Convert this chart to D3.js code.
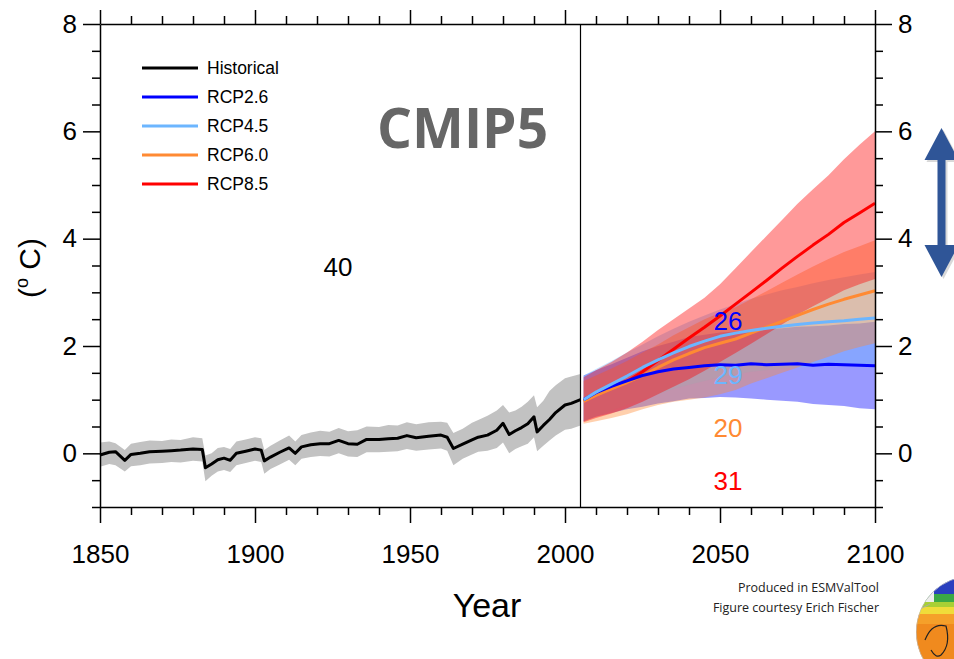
<!DOCTYPE html>
<html><head><meta charset="utf-8">
<script src="https://cdn.jsdelivr.net/npm/d3@7"></script>
<style>body{margin:0;background:#fff} svg{display:block}</style>
</head><body>
<svg id="c" width="954" height="659"></svg>
<script>
// ---------- DATA ----------
const histYears = [1850,1853,1855,1858,1860,1863,1866,1870,1873,1876,1880,1883,1884,1886,1888,1890,1892,1894,1897,1900,1902,1903,1905,1908,1911,1913,1915,1918,1921,1924,1927,1930,1933,1936,1940,1943,1946,1949,1952,1956,1960,1962,1964,1967,1970,1972,1975,1978,1980,1982,1984,1986,1988,1990,1991,1993,1995,1997,2000,2002,2005];
const histMean = [-0.03,0.02,0.03,-0.13,-0.02,0.00,0.03,0.04,0.05,0.06,0.08,0.07,-0.27,-0.20,-0.12,-0.09,-0.13,0.00,0.04,0.08,0.06,-0.14,-0.07,0.02,0.10,0.00,0.12,0.16,0.18,0.18,0.24,0.18,0.17,0.26,0.26,0.27,0.28,0.33,0.29,0.32,0.34,0.30,0.09,0.17,0.25,0.30,0.34,0.43,0.56,0.35,0.42,0.48,0.55,0.68,0.40,0.52,0.63,0.76,0.90,0.93,1.00];
const histLo = [-0.25,-0.20,-0.22,-0.34,-0.24,-0.22,-0.19,-0.18,-0.16,-0.17,-0.14,-0.15,-0.52,-0.42,-0.34,-0.31,-0.35,-0.22,-0.18,-0.14,-0.16,-0.38,-0.29,-0.21,-0.12,-0.22,-0.10,-0.07,-0.05,-0.06,0.00,-0.06,-0.07,0.02,0.02,0.03,0.04,0.08,0.05,0.07,0.09,0.05,-0.22,-0.10,-0.02,0.03,0.05,0.10,0.20,0.00,0.08,0.13,0.18,0.30,0.04,0.14,0.24,0.33,0.44,0.46,0.52];
const histHi = [0.20,0.22,0.19,0.06,0.18,0.21,0.24,0.23,0.26,0.25,0.30,0.28,-0.04,0.00,0.10,0.12,0.08,0.22,0.26,0.30,0.28,0.06,0.14,0.24,0.33,0.22,0.34,0.39,0.42,0.40,0.47,0.41,0.43,0.50,0.49,0.53,0.52,0.58,0.54,0.58,0.59,0.57,0.38,0.46,0.57,0.62,0.70,0.80,0.90,0.76,0.80,0.87,0.96,1.08,0.86,0.98,1.16,1.27,1.40,1.43,1.48];

const futYears = [2006,2010,2015,2020,2025,2030,2035,2040,2045,2050,2055,2060,2065,2070,2075,2080,2085,2090,2095,2100];
const rcp26Mean = [1.00,1.13,1.25,1.35,1.45,1.52,1.57,1.60,1.63,1.65,1.64,1.67,1.65,1.66,1.67,1.64,1.66,1.65,1.64,1.63];
const rcp26Lo   = [0.60,0.68,0.75,0.82,0.87,0.93,0.97,1.02,1.03,1.05,1.04,1.02,1.00,0.98,0.96,0.92,0.90,0.88,0.84,0.82];
const rcp26Hi   = [1.45,1.55,1.66,1.78,1.90,2.00,2.08,2.17,2.21,2.25,2.27,2.30,2.31,2.33,2.36,2.37,2.38,2.41,2.42,2.45];
const rcp45Mean = [1.00,1.14,1.29,1.44,1.60,1.74,1.87,1.99,2.09,2.18,2.24,2.29,2.33,2.37,2.40,2.43,2.45,2.47,2.50,2.52];
const rcp45Lo   = [0.60,0.70,0.80,0.90,1.00,1.10,1.20,1.28,1.35,1.42,1.47,1.52,1.55,1.58,1.60,1.62,1.63,1.65,1.66,1.67];
const rcp45Hi   = [1.45,1.57,1.72,1.88,2.03,2.18,2.32,2.45,2.57,2.68,2.78,2.88,2.96,3.04,3.10,3.17,3.23,3.28,3.33,3.38];
const rcp60Mean = [0.97,1.08,1.20,1.32,1.45,1.60,1.74,1.86,1.97,2.05,2.13,2.24,2.35,2.46,2.57,2.68,2.78,2.87,2.95,3.03];
const rcp60Lo   = [0.55,0.60,0.66,0.73,0.82,0.90,0.96,1.00,1.04,1.10,1.18,1.30,1.40,1.50,1.60,1.70,1.80,1.90,1.98,2.05];
const rcp60Hi   = [1.35,1.45,1.58,1.72,1.88,2.03,2.20,2.35,2.50,2.62,2.72,2.87,3.02,3.18,3.33,3.48,3.62,3.75,3.86,3.97];
const rcp85Mean = [0.99,1.10,1.22,1.34,1.52,1.73,1.94,2.15,2.35,2.56,2.78,3.00,3.22,3.45,3.67,3.88,4.08,4.30,4.48,4.66];
const rcp85Lo   = [0.58,0.66,0.74,0.84,0.96,1.10,1.24,1.38,1.54,1.70,1.87,2.04,2.22,2.40,2.58,2.74,2.89,3.04,3.15,3.25];
const rcp85Hi   = [1.42,1.55,1.70,1.88,2.08,2.30,2.50,2.70,2.90,3.15,3.45,3.75,4.05,4.35,4.65,4.92,5.18,5.48,5.75,6.00];

const seriesNames = ["Historical","RCP2.6","RCP4.5","RCP6.0","RCP8.5"];
const modelCounts = ["40","26","29","20","31"];
const xMajorTicks = [1850,1900,1950,2000,2050,2100];
const yMajorTicks = [0,2,4,6,8];

// ---------- STYLE ----------
const lineColors = ["#000000","#0000ff","#6cb6ff","#ff8a33","#ff0000"];
const fillColors = [null,"#0000ff","#6cb6ff","#ff8a33","#ff0000"];
const FONT = "'Liberation Sans', Arial, Helvetica, sans-serif";

const svg = d3.select("#c");
const x = d3.scaleLinear().domain([1850,2100]).range([100,875]);
const y = d3.scaleLinear().domain([-1,8]).range([507,24]);

const g = svg.append("g");

// historical band
const histRows = histYears.map((yr,i)=>({yr, m:histMean[i], lo:histLo[i], hi:histHi[i]}));
const area = d3.area().x(d=>x(d.yr)).y0(d=>y(d.lo)).y1(d=>y(d.hi));
const line = d3.line().x(d=>x(d.yr)).y(d=>y(d.m));
g.append("path").datum(histRows).attr("d",area).attr("fill","#c2c2c2");

// future bands
const fut = [
  {m:rcp26Mean, lo:rcp26Lo, hi:rcp26Hi},
  {m:rcp45Mean, lo:rcp45Lo, hi:rcp45Hi},
  {m:rcp60Mean, lo:rcp60Lo, hi:rcp60Hi},
  {m:rcp85Mean, lo:rcp85Lo, hi:rcp85Hi}
].map(s => futYears.map((yr,i)=>({yr, m:s.m[i], lo:s.lo[i], hi:s.hi[i]})));

fut.forEach((rows,k)=>{
  g.append("path").datum(rows).attr("d",area)
   .attr("fill",fillColors[k+1]).attr("fill-opacity",0.4);
});

// lines
g.append("path").datum(histRows).attr("d",line).attr("fill","none")
 .attr("stroke","#000").attr("stroke-width",3).attr("stroke-linejoin","round");
[3,2,0,1].forEach(k=>{
  g.append("path").datum(fut[k]).attr("d",line).attr("fill","none")
   .attr("stroke",lineColors[k+1]).attr("stroke-width",3).attr("stroke-linejoin","round");
});

// 2005 divider
g.append("line").attr("x1",x(2005)).attr("x2",x(2005)).attr("y1",y(8)).attr("y2",y(-1))
 .attr("stroke","#000").attr("stroke-width",1.2);

// ---------- AXES ----------
const xMinor = d3.range(1850,2101,10).filter(v=>!xMajorTicks.includes(v));
const yMinor = d3.range(-1,8.01,0.5).filter(v=>!yMajorTicks.includes(v));

function styleAxis(sel, fs){
  sel.selectAll("path.domain").attr("stroke","#000").attr("stroke-width",1.5);
  sel.selectAll(".tick line").attr("stroke","#000").attr("stroke-width",1.5);
  sel.selectAll(".tick text").attr("font-family",FONT).attr("font-size",fs).attr("fill","#000");
}
// bottom
let a = svg.append("g").attr("transform","translate(0,507)")
 .call(d3.axisBottom(x).tickValues(xMajorTicks).tickSize(16).tickSizeOuter(0).tickPadding(22).tickFormat(d3.format("d")));
styleAxis(a,26);
a = svg.append("g").attr("transform","translate(0,507)")
 .call(d3.axisBottom(x).tickValues(xMinor).tickSize(8).tickSizeOuter(0).tickFormat(""));
styleAxis(a,26); a.select(".domain").remove();
// top
a = svg.append("g").attr("transform","translate(0,24)")
 .call(d3.axisTop(x).tickValues(xMajorTicks).tickSize(14).tickSizeOuter(0).tickFormat(""));
styleAxis(a,26);
a = svg.append("g").attr("transform","translate(0,24)")
 .call(d3.axisTop(x).tickValues(xMinor).tickSize(8).tickSizeOuter(0).tickFormat(""));
styleAxis(a,26); a.select(".domain").remove();
// left
a = svg.append("g").attr("transform","translate(100,0)")
 .call(d3.axisLeft(y).tickValues(yMajorTicks).tickSize(17).tickSizeOuter(0).tickPadding(6).tickFormat(d3.format("d")));
styleAxis(a,26);
a = svg.append("g").attr("transform","translate(100,0)")
 .call(d3.axisLeft(y).tickValues(yMinor).tickSize(8).tickSizeOuter(0).tickFormat(""));
styleAxis(a,26); a.select(".domain").remove();
// right
a = svg.append("g").attr("transform","translate(875,0)")
 .call(d3.axisRight(y).tickValues(yMajorTicks).tickSize(17).tickSizeOuter(0).tickPadding(6).tickFormat(d3.format("d")));
styleAxis(a,26);
a = svg.append("g").attr("transform","translate(875,0)")
 .call(d3.axisRight(y).tickValues(yMinor).tickSize(8).tickSizeOuter(0).tickFormat(""));
styleAxis(a,26); a.select(".domain").remove();

// axis titles
svg.append("text").attr("x",487).attr("y",617).attr("text-anchor","middle")
 .attr("font-family",FONT).attr("font-size",34).text("Year");
const yl = svg.append("text").attr("transform","translate(40,268) rotate(-90)")
 .attr("text-anchor","middle").attr("font-family",FONT).attr("font-size",30);
yl.append("tspan").text("(");
yl.append("tspan").attr("font-size",18).attr("dy",-12).text("o");
yl.append("tspan").attr("dy",12).text(" C)");

// ---------- LEGEND ----------
const legY = [68,97,126,155,184];
seriesNames.forEach((n,i)=>{
  svg.append("line").attr("x1",142).attr("x2",198).attr("y1",legY[i]).attr("y2",legY[i])
   .attr("stroke",lineColors[i]).attr("stroke-width",3);
  svg.append("text").attr("x",207).attr("y",legY[i]).attr("dy","0.35em")
   .attr("font-family",FONT).attr("font-size",17.5).text(n);
});

// model counts
const countPos = [[338,267],[728,321],[728,375],[728,428],[728,481]];
modelCounts.forEach((c,i)=>{
  svg.append("text").attr("x",countPos[i][0]).attr("y",countPos[i][1]).attr("dy","0.35em")
   .attr("text-anchor","middle").attr("font-family",FONT).attr("font-size",26)
   .attr("fill",lineColors[i]).text(c);
});

// title
svg.append("text").attr("x",377).attr("y",148).attr("font-family","'Open Sans', sans-serif")
 .attr("font-weight","bold").attr("font-size",55).attr("fill","#666666").text("CMIP5");

// credits
svg.append("text").attr("x",879).attr("y",592).attr("text-anchor","end")
 .attr("font-family","'Open Sans', sans-serif").attr("font-size",12.5).attr("fill","#222").text("Produced in ESMValTool");
svg.append("text").attr("x",879).attr("y",612).attr("text-anchor","end")
 .attr("font-family","'Open Sans', sans-serif").attr("font-size",12.5).attr("fill","#222").text("Figure courtesy Erich Fischer");

// double arrow
const ax = 941.5;
const arrowPts = [[ax,128],[ax+17,160],[ax+4,160],[ax+4,245],[ax+17,245],[ax,277],[ax-17,245],[ax-4,245],[ax-4,160],[ax-17,160]];
svg.append("polygon").attr("points",arrowPts.map(p=>[p[0]+2,p[1]+2].join(",")).join(" ")).attr("fill","#000").attr("fill-opacity",0.15);
svg.append("polygon").attr("points",arrowPts.map(p=>p.join(",")).join(" ")).attr("fill","#2f5597");

// globe logo
const gcx = 972, gcy = 632, gr = 56;
const defs = svg.append("defs");
defs.append("clipPath").attr("id","globe").append("circle").attr("cx",gcx).attr("cy",gcy).attr("r",gr);
const gl = svg.append("g").attr("clip-path","url(#globe)");
const bands = [[570,"#2a3fbf"],[594,"#3aa845"],[602,"#a8d035"],[607,"#f0dc3a"],[614,"#f5a02a"],[624,"#f08a1e"]];
bands.forEach((b,i)=>{
  const y1 = i<bands.length-1 ? bands[i+1][0] : 700;
  gl.append("rect").attr("x",910).attr("y",b[0]).attr("width",70).attr("height",y1-b[0]).attr("fill",b[1]);
});
gl.append("rect").attr("x",912).attr("y",570).attr("width",22).attr("height",32).attr("fill","#eeeeee");
gl.append("path").attr("d","M920,596 L932,588 M918,610 L930,604").attr("stroke","#aaa").attr("fill","none");
gl.append("path").attr("d","M925,640 Q932,622 946,626 Q951,645 941,655 Q936,659 931,650").attr("stroke","#222").attr("stroke-width",1.2).attr("fill","none");
gl.append("circle").attr("cx",gcx).attr("cy",gcy).attr("r",gr).attr("fill","none").attr("stroke","#bbb");
</script>
</body></html>
